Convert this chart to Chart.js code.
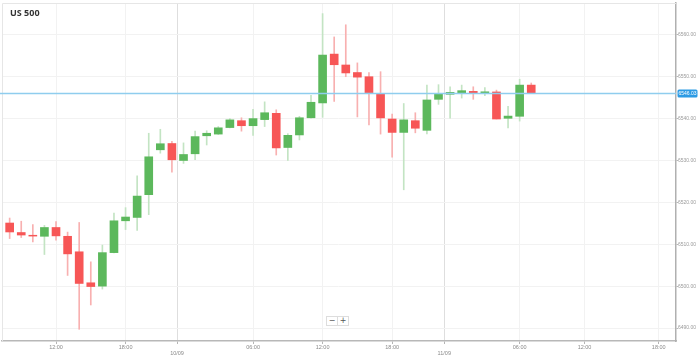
<!DOCTYPE html>
<html><head><meta charset="utf-8">
<script src="https://cdn.jsdelivr.net/npm/chart.js@4/dist/chart.umd.min.js"></script>
<style>
html,body{margin:0;padding:0;background:#fff;}
#wrap{position:relative;width:699px;height:357px;}
#title{position:absolute;left:10px;top:6px;font:bold 9px "Open Sans",sans-serif;color:#333;}
.zb{position:absolute;top:316px;width:10px;height:8px;border:1px solid #ddd;background:#fff;font:8px/8px "DejaVu Sans",sans-serif;color:#555;text-align:center;}
</style></head><body>
<div id="wrap"><canvas id="c" width="699" height="357"></canvas>
<div id="title">US 500</div>
<div class="zb" style="left:326px">−</div><div class="zb" style="left:337px">+</div>
</div>
<script>
const opens  = [6515.07,6512.8,6512.15,6511.9,6514.0,6511.9,6508.2,6500.8,6500.0,6508.0,6515.6,6516.4,6521.83,6532.55,6534.05,6530.0,6531.6,6535.9,6536.3,6537.86,6539.5,6538.3,6539.76,6541.26,6533.1,6536.1,6540.2,6543.74,6555.4,6552.8,6551.0,6550.0,6545.9,6539.9,6536.7,6539.5,6537.2,6544.6,6545.8,6546.1,6546.5,6546.0,6546.36,6540.07,6540.55,6548.0];
const highs  = [6516.26,6515.5,6514.7,6514.5,6515.4,6512.9,6515.2,6505.8,6509.8,6517.45,6518.74,6526.36,6536.5,6537.45,6534.6,6534.2,6537.0,6537.1,6538.1,6540.0,6540.2,6542.2,6544.0,6542.1,6536.4,6540.55,6545.55,6565.07,6559.5,6562.4,6553.3,6551.0,6551.2,6541.1,6543.6,6541.4,6548.0,6548.1,6547.6,6548.0,6547.6,6547.4,6546.8,6542.9,6549.4,6548.5];
const lows   = [6511.36,6511.6,6510.55,6507.55,6510.95,6502.55,6489.7,6495.5,6499.3,6507.9,6513.5,6513.3,6517.07,6531.74,6527.2,6529.3,6530.2,6533.7,6536.2,6537.8,6537.0,6536.0,6538.1,6531.3,6530.0,6534.9,6540.1,6540.3,6544.1,6550.0,6540.4,6538.5,6536.3,6530.8,6523.0,6536.6,6536.35,6543.4,6540.1,6544.9,6544.6,6545.5,6539.9,6537.8,6539.4,6546.0];
const closes = [6512.93,6512.2,6511.95,6514.0,6512.0,6507.7,6500.64,6499.9,6508.0,6515.6,6516.5,6521.5,6530.88,6534.0,6530.17,6531.43,6535.7,6536.5,6537.8,6539.7,6538.3,6540.0,6541.4,6533.0,6536.0,6540.2,6543.9,6555.17,6552.86,6550.9,6549.9,6546.2,6540.17,6536.7,6539.7,6537.7,6544.45,6545.95,6546.26,6546.67,6545.95,6546.4,6539.9,6540.6,6548.0,6546.03];
const currentPrice = 6546.03;
const xTickPos    = [4, 10, 14.44, 21, 27, 33, 37.5, 44, 49.6, 56];
const xTickLabels = ['12:00','18:00','10/09','06:00','12:00','18:00','11/09','06:00','12:00','18:00'];
const dayTicks    = [14.44, 37.5];
const yTicks      = [6490, 6500, 6510, 6520, 6530, 6540, 6550, 6560];

const GREEN = '#5cb85c', RED = '#f75656';
const GREEN_W = '#c3e4c3', RED_W = '#f8b0b0';
const up = opens.map((o,i) => closes[i] >= o);
const bodies = opens.map((o,i) => ({x:i, y:[o, closes[i]]}));
const wicks  = lows.map((l,i) => ({x:i, y:[l, highs[i]]}));

const overlay = {
  id:'overlay',
  beforeDatasetsDraw(chart){
    const {ctx, chartArea:a} = chart;
    ctx.save();
    ctx.strokeStyle = '#e6e6e6'; ctx.lineWidth = 1;
    ctx.beginPath(); ctx.moveTo(a.left+0.5, a.bottom); ctx.lineTo(a.left+0.5, a.top+0.5); ctx.lineTo(a.right, a.top+0.5); ctx.stroke();
    ctx.restore();
  },
  afterDatasetsDraw(chart){
    const {ctx, chartArea:a, scales:{y}} = chart;
    const py = Math.round(y.getPixelForValue(currentPrice)) + 0.5;
    ctx.save();
    ctx.strokeStyle = '#8fcdee'; ctx.lineWidth = 1.5;
    ctx.beginPath(); ctx.moveTo(0, py); ctx.lineTo(a.right, py); ctx.stroke();
    ctx.fillStyle = '#2d9be4';
    ctx.beginPath(); ctx.roundRect(a.right+1.5, py-4, 20, 8, 1.5); ctx.fill();
    ctx.fillStyle = '#fff'; ctx.font = '5px "Liberation Sans"'; ctx.textBaseline = 'middle'; ctx.textAlign = 'center';
    ctx.fillText(currentPrice.toFixed(2), a.right+11.5, py+0.3);
    ctx.restore();
  }
};

new Chart(document.getElementById('c'), {
  type:'bar',
  data:{ datasets:[
    {data:bodies, backgroundColor: up.map(u=>u?GREEN:RED), barThickness:8, grouped:false, borderWidth:0},
    {data:wicks, backgroundColor: up.map(u=>u?GREEN_W:RED_W), barThickness:1, grouped:false, borderWidth:0}
  ]},
  options:{
    responsive:false, animation:false, devicePixelRatio:1,
    layout:{padding:{left:2, top:2, right:0, bottom:0}},
    plugins:{legend:{display:false}, tooltip:{enabled:false}},
    scales:{
      x:{type:'linear', min:-0.66, max:57.49, offset:false,
        afterBuildTicks(s){ s.ticks = xTickPos.map(v=>({value:v})); },
        afterFit(s){ s.height = 16; },
        ticks:{autoSkip:false, maxRotation:0, padding:0, color:'#8a8a8a', font:{size:5.5, family:'Liberation Sans'},
          callback(v){ const i = xTickPos.indexOf(v); const l = xTickLabels[i]; return dayTicks.includes(v) ? ['', l] : l; }},
        grid:{offset:false, color(c){ return c.tick && dayTicks.includes(c.tick.value) ? '#dedede' : '#f2f2f2'; }, tickLength:3, tickColor:'#b5b5b5'},
        border:{color:'#b8b8b8', width:1.5}
      },
      y:{position:'right', min:6486.9, max:6567.6,
        afterBuildTicks(s){ s.ticks = yTicks.map(v=>({value:v})); },
        afterFit(s){ s.width = 23; },
        ticks:{padding:0, color:'#9a9a9a', font:{size:5, family:'Liberation Sans'}, callback:v=>Number(v).toFixed(2)},
        grid:{color:'#f2f2f2', tickLength:2, tickColor:'#b5b5b5'},
        border:{color:'#b0b0b0', width:1.5}
      }
    }
  },
  plugins:[overlay]
});
</script>
</body></html>
